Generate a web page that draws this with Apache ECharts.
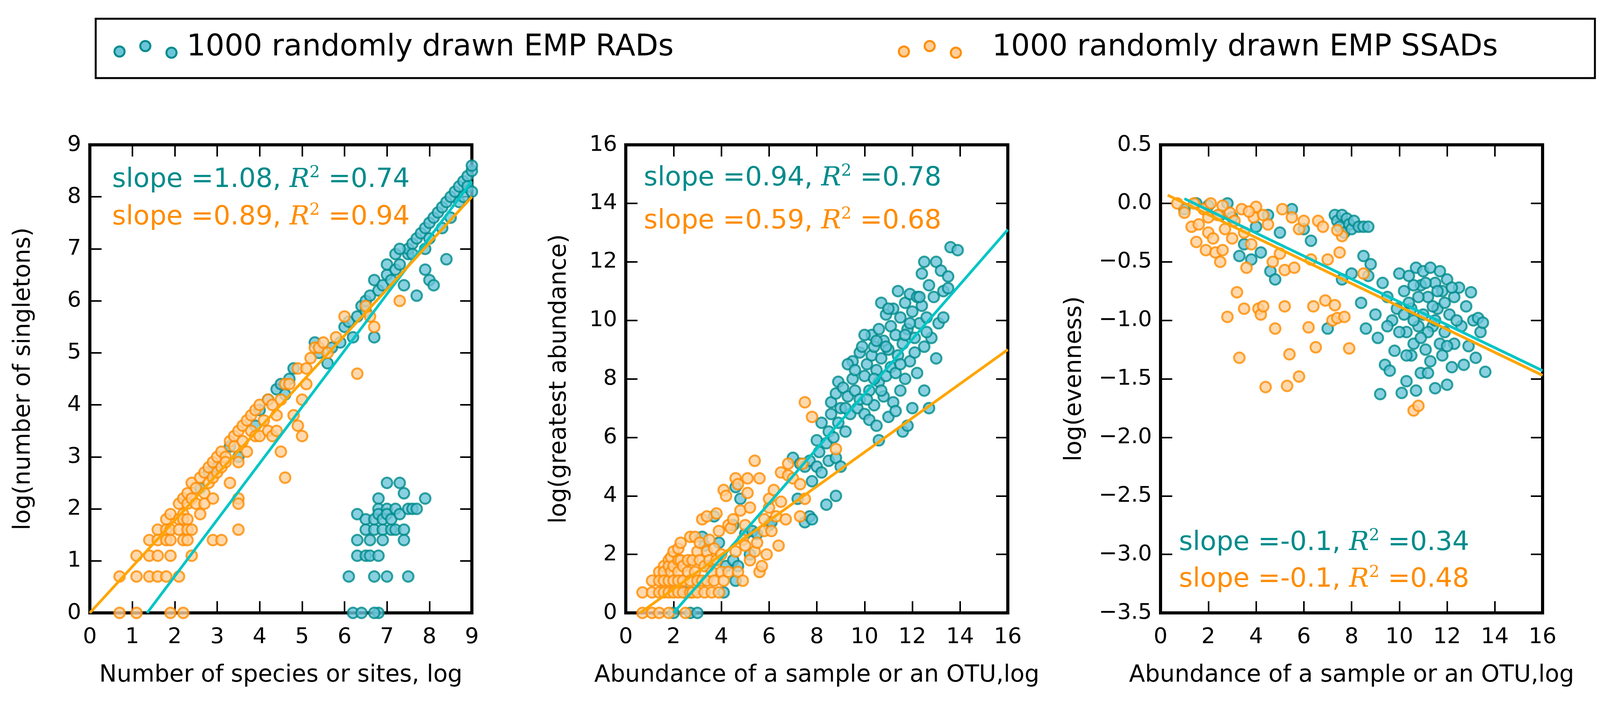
<!DOCTYPE html>
<html>
<head>
<meta charset="utf-8">
<script src="https://cdn.jsdelivr.net/npm/echarts@6/dist/echarts.min.js"></script>
<style>html,body{margin:0;padding:0;background:#fff}#chart{width:4149px;height:1829px}</style>
</head>
<body>
<div id="chart"></div>
<script>
// panel 1: singletons vs richness
const p1Rad = [[2.6,2.4],[2.8,2.7],[3.0,2.8],[3.3,3.2],[3.5,3.0],[3.9,3.6],[4.0,3.9],[4.2,4.1],[4.4,4.3],[4.5,4.4],[4.6,4.2],[4.7,4.5],[4.8,4.7],[5.3,5.2],[5.4,5.0],[5.6,4.8],[5.7,5.1],[5.9,5.2],[6.0,5.5],[6.1,5.6],[6.2,5.3],[6.3,5.7],[6.4,5.9],[6.5,6.0],[6.5,5.8],[6.6,6.1],[6.7,5.3],[6.7,6.4],[6.8,6.2],[6.9,6.3],[7.0,6.5],[7.0,6.7],[7.1,6.4],[7.2,6.6],[7.2,6.9],[7.3,6.7],[7.4,6.3],[7.5,6.9],[7.5,7.0],[7.6,7.1],[7.7,7.2],[7.7,6.1],[7.8,7.3],[7.9,7.0],[7.9,7.4],[8.0,7.5],[8.0,6.4],[8.0,7.2],[8.1,7.6],[8.1,6.3],[8.2,7.7],[8.3,7.8],[8.3,7.4],[8.4,7.9],[8.4,6.8],[8.5,8.0],[8.5,7.6],[8.6,8.1],[8.7,8.2],[8.7,7.9],[8.8,8.3],[8.8,8.0],[8.9,8.4],[8.9,8.2],[9.0,8.5],[9.0,8.6],[9.0,8.1],[7.9,6.6],[7.6,6.9],[7.3,7.0],
  [6.1,0.7],[6.2,0],[6.3,1.4],[6.3,1.1],[6.3,1.9],[6.4,0],[6.5,1.8],[6.5,1.6],[6.5,1.1],[6.6,1.4],[6.6,1.1],[6.7,0.7],[6.7,1.6],[6.7,1.8],[6.8,2.2],[6.8,2.0],[6.8,1.9],[6.8,1.1],[6.8,0],[6.9,1.6],[6.9,1.4],[6.9,1.8],[7.0,2.0],[7.0,1.9],[7.0,0.7],[7.0,2.5],[7.1,1.6],[7.1,1.8],[7.2,2.0],[7.2,1.6],[7.3,2.5],[7.3,1.9],[7.4,1.6],[7.4,2.3],[7.4,1.4],[7.5,2.0],[7.5,0.7],[7.6,2.0],[7.7,2.0],[7.9,2.2],[6.7,0]];
const p1Ssad = [[0.7,0.7],[0.7,0],[1.1,1.1],[1.1,0.7],[1.1,0],[1.4,1.4],[1.4,1.1],[1.4,0.7],[1.6,1.6],[1.6,1.4],[1.6,1.1],[1.6,0.7],[1.8,1.8],[1.8,1.6],[1.8,1.4],[1.8,0.7],[1.9,1.9],[1.9,1.6],[1.9,1.4],[1.9,1.1],[1.9,0],[2.1,2.1],[2.1,1.8],[2.1,1.6],[2.1,0.7],[2.2,2.2],[2.2,1.9],[2.2,1.8],[2.2,1.4],[2.2,0],[2.3,2.3],[2.3,2.1],[2.3,1.8],[2.3,1.6],[2.3,1.4],[2.4,2.5],[2.4,2.2],[2.4,1.6],[2.4,1.1],[2.5,2.4],[2.5,2.1],[2.6,2.6],[2.6,1.9],[2.7,2.7],[2.7,2.3],[2.7,2.1],[2.8,2.8],[2.8,2.5],[2.9,2.9],[2.9,2.6],[2.9,2.2],[2.9,1.4],[3.0,3.0],[3.0,2.7],[3.1,3.1],[3.1,2.8],[3.1,1.4],[3.2,3.0],[3.2,2.9],[3.3,3.3],[3.3,2.5],[3.4,3.4],[3.4,3.2],[3.5,3.5],[3.5,2.9],[3.5,2.2],[3.5,2.1],[3.5,1.6],[3.6,3.6],[3.6,3.3],[3.7,3.7],[3.7,3.1],[3.8,3.8],[3.8,3.5],[3.9,3.9],[3.9,3.4],[4.0,4.0],[4.0,3.4],[4.1,3.7],[4.2,3.5],[4.2,4.1],[4.3,3.4],[4.3,4.0],[4.4,3.8],[4.4,3.5],[4.5,4.1],[4.5,3.1],[4.6,4.4],[4.6,2.6],[4.7,4.4],[4.8,3.8],[4.9,3.6],[4.9,4.7],[5.0,4.1],[5.0,3.4],[5.1,4.7],[5.1,4.4],[5.2,4.9],[5.3,5.1],[5.4,5.1],[5.5,5.2],[5.6,5.0],[5.8,5.3],[6.0,5.7],[6.3,4.6],[6.5,5.9],[6.6,5.7],[6.7,5.5],[7.3,6.0]];
const p1RadFit = [[1.35,0],[9,8.3]];
const p1SsadFit = [[0,0],[9,8.0]];

// panel 2: greatest abundance vs total abundance
const p2Rad = [[2.0,0],[2.5,0.7],[2.7,0],[3.0,0],[3.2,2.6],[3.3,2.3],[3.5,1.6],[3.7,3.3],[3.9,2.4],[4.1,0.7],[4.2,1.6],[4.5,1.8],[4.6,1.1],[4.6,4.3],[4.7,1.6],[4.8,3.9],[4.5,3.0],[5.0,2.7],[5.2,2.0],[5.3,2.8],[5.5,2.7],[6.0,3.0],[6.1,3.1],[7.2,3.9],[7.5,3.1],[7.7,3.3],[7.8,3.2],[8.4,3.7],[8.8,4.0],[7.0,5.3],[7.3,5.1],[7.5,5.0],[7.7,5.2],[7.8,4.5],[8.0,5.9],[8.0,5.0],[8.1,5.5],[8.2,4.8],[8.2,6.5],[8.4,5.8],[8.5,6.2],[8.5,5.2],[8.6,6.8],[8.6,7.2],[8.7,6.0],[8.8,7.5],[8.8,5.3],[8.9,7.9],[8.9,6.5],[9.0,7.0],[9.0,5.0],[9.1,7.7],[9.2,6.2],[9.3,7.4],[9.4,6.8],[9.5,8.0],[9.5,8.6],[9.6,7.6],[9.7,7.0],[9.8,8.9],[9.8,7.3],[9.9,9.1],[10.0,8.1],[10.0,6.8],[10.1,8.5],[10.2,7.6],[10.2,6.6],[10.3,8.8],[10.3,9.5],[10.4,7.1],[10.4,9.1],[10.5,8.3],[10.5,6.4],[10.6,9.7],[10.6,7.9],[10.7,10.6],[10.7,8.7],[10.8,9.3],[10.8,7.4],[10.9,8.1],[10.9,10.2],[11.0,6.7],[11.0,9.0],[11.1,9.8],[11.1,8.4],[11.2,7.2],[11.2,10.4],[11.3,9.5],[11.3,6.9],[11.4,11.0],[11.4,8.8],[11.5,10.1],[11.5,7.6],[11.6,9.2],[11.6,6.2],[11.7,10.6],[11.7,8.0],[11.8,9.7],[11.8,6.4],[11.9,10.9],[11.9,8.6],[12.0,10.3],[12.0,7.0],[12.1,9.4],[12.2,10.8],[12.2,8.2],[12.3,9.9],[12.4,11.6],[12.4,10.5],[12.5,9.1],[12.5,12.0],[12.6,10.1],[12.7,11.2],[12.8,9.4],[12.9,10.8],[13.0,12.0],[13.0,8.7],[13.1,9.9],[13.2,11.7],[13.3,11.0],[13.3,10.1],[13.5,11.5],[13.5,11.1],[13.6,12.5],[13.9,12.4],[10.6,5.9],[12.5,7.6],[12.7,7.0],[9.3,8.5],[10.0,9.5],[9.6,8.3],[10.1,7.3],[10.5,9.3],[10.9,9.1],[11.3,8.2],[11.7,9.5],[12.1,8.9],[12.3,10.8],[11.0,10.4],[10.4,8.0],[9.2,7.0],[11.5,8.5],[12.6,9.6],[10.7,7.6],[11.9,9.9]];
const p2Ssad = [[0.7,0.7],[0.7,0],[1.1,1.1],[1.1,0.7],[1.1,0],[1.4,1.4],[1.4,1.1],[1.4,0.7],[1.4,0],[1.6,1.6],[1.6,1.4],[1.6,1.1],[1.6,0.7],[1.8,1.8],[1.8,1.6],[1.8,1.1],[1.8,0.7],[1.8,0],[1.9,1.9],[1.9,1.4],[2.0,2.1],[2.0,1.6],[2.0,1.1],[2.0,0.7],[2.2,1.8],[2.2,2.2],[2.2,1.4],[2.2,1.1],[2.2,0.7],[2.3,2.4],[2.3,1.8],[2.4,1.6],[2.4,1.1],[2.4,0.7],[2.5,0],[2.6,1.8],[2.6,1.4],[2.7,2.6],[2.7,1.1],[2.7,0.7],[2.8,1.8],[2.8,0.7],[2.9,2.6],[2.9,1.4],[3.0,2.1],[3.0,1.1],[3.0,0.7],[3.1,2.4],[3.1,1.8],[3.2,3.2],[3.2,1.1],[3.3,1.6],[3.3,0.7],[3.4,3.3],[3.4,2.1],[3.4,1.1],[3.5,2.5],[3.5,1.8],[3.6,0.7],[3.6,1.4],[3.7,1.1],[3.7,2.2],[3.8,3.4],[3.8,1.8],[3.9,0.7],[3.9,2.8],[4.0,1.4],[4.0,2.0],[4.1,4.2],[4.1,1.1],[4.2,4.0],[4.3,3.0],[4.3,1.4],[4.4,2.9],[4.5,3.2],[4.6,2.1],[4.6,4.6],[4.7,1.4],[4.7,4.4],[4.8,3.5],[4.9,2.5],[4.9,1.1],[5.0,3.0],[5.0,2.3],[5.1,4.6],[5.1,4.1],[5.2,3.6],[5.2,1.8],[5.4,2.1],[5.4,5.2],[5.5,2.4],[5.6,4.6],[5.6,1.4],[5.7,1.6],[5.8,3.2],[5.8,2.8],[5.9,2.0],[6.0,3.6],[6.0,3.9],[6.1,2.8],[6.2,4.2],[6.3,3.3],[6.4,2.3],[6.5,3.8],[6.5,4.8],[6.7,3.2],[6.8,4.7],[6.8,5.1],[7.0,4.6],[7.3,4.4],[7.3,3.3],[7.5,3.9],[7.5,7.2],[7.8,6.7],[8.8,5.6],[7.4,5.1]];
const p2RadFit = [[2.0,0],[16,13.1]];
const p2SsadFit = [[0.6,0],[16,9.0]];

// panel 3: evenness vs total abundance
const p3Rad = [[1.0,-0.05],[1.5,0],[2.0,-0.02],[2.5,-0.1],[2.8,0],[3.0,-0.12],[3.5,-0.35],[3.3,-0.45],[3.8,-0.48],[4.0,-0.2],[4.2,-0.42],[4.5,-0.1],[4.6,-0.58],[4.8,-0.65],[5.0,-0.25],[5.5,-0.05],[6.0,-0.22],[6.3,-0.32],[7.0,-1.07],[7.3,-0.1],[7.4,-0.15],[7.5,-0.2],[7.6,-0.1],[7.7,-0.25],[7.8,-0.13],[7.9,-0.18],[8.0,-0.22],[8.1,-0.15],[8.3,-0.2],[8.5,-0.2],[8.7,-0.2],[7.6,-0.65],[8.0,-0.6],[8.5,-0.45],[8.4,-0.85],[8.6,-1.07],[8.7,-0.62],[8.8,-0.52],[9.0,-0.95],[9.1,-1.15],[9.2,-1.63],[9.3,-0.68],[9.4,-1.38],[9.5,-0.8],[9.6,-1.43],[9.7,-1.0],[9.8,-1.26],[9.9,-0.9],[10.0,-0.6],[10.1,-1.62],[10.2,-0.75],[10.3,-1.1],[10.3,-1.52],[10.4,-0.62],[10.5,-0.9],[10.5,-1.3],[10.6,-1.2],[10.7,-1.6],[10.7,-0.55],[10.8,-1.05],[10.9,-0.7],[10.9,-1.45],[11.0,-0.95],[11.0,-0.58],[11.1,-1.25],[11.2,-0.8],[11.3,-1.35],[11.3,-0.55],[11.4,-1.05],[11.5,-0.68],[11.5,-1.58],[11.6,-0.9],[11.7,-1.2],[11.7,-0.58],[11.8,-0.75],[11.9,-1.1],[12.0,-1.55],[12.0,-0.65],[12.1,-0.95],[12.2,-1.4],[12.3,-0.8],[12.3,-1.2],[12.5,-0.72],[12.6,-1.05],[12.7,-1.38],[12.8,-0.88],[12.9,-1.22],[13.0,-0.76],[13.1,-1.0],[13.2,-1.32],[13.3,-0.98],[13.4,-1.1],[13.5,-1.02],[13.6,-1.44],[10.2,-0.95],[11.2,-1.1],[10.8,-0.8],[11.6,-0.75],[12.4,-1.0],[10.0,-1.1],[9.5,-1.05],[11.9,-0.85],[10.4,-0.85],[10.6,-1.0],[11.1,-0.68],[11.4,-0.88],[11.8,-1.3],[12.2,-0.72],[10.9,-1.15],[11.5,-1.0],[10.3,-1.3],[12.0,-1.22],[11.2,-1.45],[10.6,-0.7]];
const p3Ssad = [[0.7,0],[1.0,-0.08],[1.3,-0.2],[1.4,0],[1.5,-0.33],[1.6,-0.18],[1.8,-0.05],[1.9,-0.4],[2.0,-0.25],[2.1,0],[2.2,-0.3],[2.3,-0.42],[2.4,-0.1],[2.5,-0.5],[2.6,-0.4],[2.7,-0.22],[2.8,-0.97],[2.9,-0.08],[3.0,-0.3],[3.1,-0.15],[3.2,-0.76],[3.3,-1.32],[3.4,-0.05],[3.5,-0.9],[3.5,-0.25],[3.6,-0.55],[3.8,-0.35],[3.9,-0.12],[4.0,-0.03],[4.1,-0.9],[4.2,-0.95],[4.3,-0.88],[4.4,-1.57],[4.5,-0.18],[4.7,-0.5],[4.8,-1.07],[5.0,-0.43],[5.1,-0.05],[5.2,-0.57],[5.2,-0.88],[5.3,-1.56],[5.4,-1.29],[5.5,-0.12],[5.6,-0.55],[5.8,-1.48],[5.8,-0.22],[6.0,-0.15],[6.2,-1.06],[6.3,-0.48],[6.4,-0.88],[6.5,-1.23],[6.6,-0.15],[6.8,-0.2],[6.9,-0.83],[7.0,-0.48],[7.2,-1.0],[7.3,-0.87],[7.4,-0.98],[7.5,-0.42],[7.6,-0.28],[7.7,-0.97],[7.9,-1.24],[7.4,-0.23],[10.6,-1.77],[10.8,-1.73],[8.5,-0.6],[2.0,-0.12],[2.6,-0.02],[3.7,-0.07],[4.3,-0.1]];
const p3RadFit = [[1.0,0.04],[16,-1.43]];
const p3SsadFit = [[0.3,0.07],[16,-1.47]];

const yNames = ['log(number of singletons)', 'log(greatest abundance)', 'log(evenness)'];
const xNames = ['Number of species or sites, log', 'Abundance of a sample or an OTU,log', 'Abundance of a sample or an OTU,log'];
const xRanges = [[0, 9, 1], [0, 16, 2], [0, 16, 2]];
const yRanges = [[0, 9, 1], [0, 16, 2], [-3.5, 0.5, 0.5]];
const radStats = ['slope =1.08, ', '=0.74', 'slope =0.94, ', '=0.78', 'slope =-0.1, ', '=0.34'];
const ssadStats = ['slope =0.89, ', '=0.94', 'slope =0.59, ', '=0.68', 'slope =-0.1, ', '=0.48'];

const TEAL = '#008b8b', TEAL_FILL = '#6cc4d8', TEAL_LINE = '#00c5c5';
const ORANGE = '#ff8c00', ORANGE_FILL = '#ffcf9a', ORANGE_LINE = '#ffa500';
const FONT = 'DejaVu Sans';

const chart = echarts.init(document.getElementById('chart'));

const lefts = [230, 1602, 2971];
const grids = [], xAxes = [], yAxes = [], series = [];
const radSets = [p1Rad, p2Rad, p3Rad], ssadSets = [p1Ssad, p2Ssad, p3Ssad];
const radFits = [p1RadFit, p2RadFit, p3RadFit], ssadFits = [p1SsadFit, p2SsadFit, p3SsadFit];

function fmt(v, i) {
  if (i === 2) return (v < 0 ? '\u2212' : '') + Math.abs(v).toFixed(1);
  return String(v);
}

for (let i = 0; i < 3; i++) {
  grids.push({ left: lefts[i], top: 371, width: 978, height: 1199, show: true, borderColor: '#000', borderWidth: 8, backgroundColor: 'transparent' });
  const tick = { show: true, inside: true, length: 30, lineStyle: { color: '#000', width: 4 } };
  const noLine = { show: false, onZero: false };
  const xr = xRanges[i], yr = yRanges[i];
  xAxes.push({ gridIndex: i, type: 'value', min: xr[0], max: xr[1], interval: xr[2], position: 'bottom',
    name: xNames[i], nameLocation: 'middle', nameGap: 130, nameTextStyle: { fontFamily: FONT, fontSize: 60, color: '#000' },
    axisLine: noLine, axisTick: tick, splitLine: { show: false },
    axisLabel: { fontFamily: FONT, fontSize: 56, color: '#000', margin: 34 } });
  xAxes.push({ gridIndex: i, type: 'value', min: xr[0], max: xr[1], interval: xr[2], position: 'top',
    axisLine: noLine, axisTick: tick, splitLine: { show: false }, axisLabel: { show: false } });
  yAxes.push({ gridIndex: i, type: 'value', min: yr[0], max: yr[1], interval: yr[2], position: 'left',
    name: yNames[i], nameLocation: 'middle', nameGap: i === 2 ? 190 : 140, nameTextStyle: { fontFamily: FONT, fontSize: 60, color: '#000' },
    axisLine: noLine, axisTick: tick, splitLine: { show: false },
    axisLabel: { fontFamily: FONT, fontSize: 56, color: '#000', margin: 22, formatter: v => fmt(v, i) } });
  yAxes.push({ gridIndex: i, type: 'value', min: yr[0], max: yr[1], interval: yr[2], position: 'right',
    axisLine: noLine, axisTick: tick, splitLine: { show: false }, axisLabel: { show: false } });

  const xi = i * 2, yi = i * 2;
  series.push({ type: 'scatter', xAxisIndex: xi, yAxisIndex: yi, data: radSets[i], symbolSize: 27,
    itemStyle: { color: TEAL_FILL, borderColor: TEAL, borderWidth: 5 }, z: 2 });
  series.push({ type: 'scatter', xAxisIndex: xi, yAxisIndex: yi, data: ssadSets[i], symbolSize: 27,
    itemStyle: { color: ORANGE_FILL, borderColor: ORANGE, borderWidth: 5 }, z: 3 });
  series.push({ type: 'line', xAxisIndex: xi, yAxisIndex: yi, data: radFits[i], symbol: 'none',
    lineStyle: { color: TEAL_LINE, width: 7 }, z: 4 });
  series.push({ type: 'line', xAxisIndex: xi, yAxisIndex: yi, data: ssadFits[i], symbol: 'none',
    lineStyle: { color: ORANGE_LINE, width: 7 }, z: 4 });
}

function statText(x, y, parts, color) {
  return { type: 'text', left: x, top: y, z: 10,
    style: { text: '{a|' + parts[0] + '}{r|R}{s|2}{a| ' + parts[1] + '}',
      rich: {
        a: { fontFamily: FONT, fontSize: 68, fill: color },
        r: { fontFamily: 'DejaVu Serif', fontStyle: 'italic', fontSize: 68, fill: color },
        s: { fontFamily: 'DejaVu Serif', fontSize: 42, fill: color, padding: [0, 0, 36, 0] }
      } } };
}

const statPos = [[287, 422, 518], [1648, 418, 528], [3018, 1352, 1446]];
const graphics = [];
for (let i = 0; i < 3; i++) {
  graphics.push(statText(statPos[i][0], statPos[i][1], radStats.slice(i * 2, i * 2 + 2), TEAL));
  graphics.push(statText(statPos[i][0], statPos[i][2], ssadStats.slice(i * 2, i * 2 + 2), ORANGE));
}

// legend box
graphics.push({ type: 'rect', shape: { x: 245, y: 48, width: 3838, height: 152 }, style: { fill: '#fff', stroke: '#000', lineWidth: 5 } });
const legendMarks = [[306, 132], [372, 118], [439, 135]];
legendMarks.forEach(m => {
  graphics.push({ type: 'circle', shape: { cx: m[0], cy: m[1], r: 13 }, style: { fill: TEAL_FILL, stroke: TEAL, lineWidth: 5 } });
  graphics.push({ type: 'circle', shape: { cx: m[0] + 2008, cy: m[1], r: 13 }, style: { fill: ORANGE_FILL, stroke: ORANGE, lineWidth: 5 } });
});
graphics.push({ type: 'text', left: 478, top: 84, style: { text: '1000 randomly drawn EMP RADs', fontFamily: FONT, fontSize: 76, fill: '#000' } });
graphics.push({ type: 'text', left: 2540, top: 84, style: { text: '1000 randomly drawn EMP SSADs', fontFamily: FONT, fontSize: 76, fill: '#000' } });

chart.setOption({
  backgroundColor: '#fff',
  animation: false,
  grid: grids,
  xAxis: xAxes,
  yAxis: yAxes,
  series: series,
  graphic: graphics
});
</script>
</body>
</html>
